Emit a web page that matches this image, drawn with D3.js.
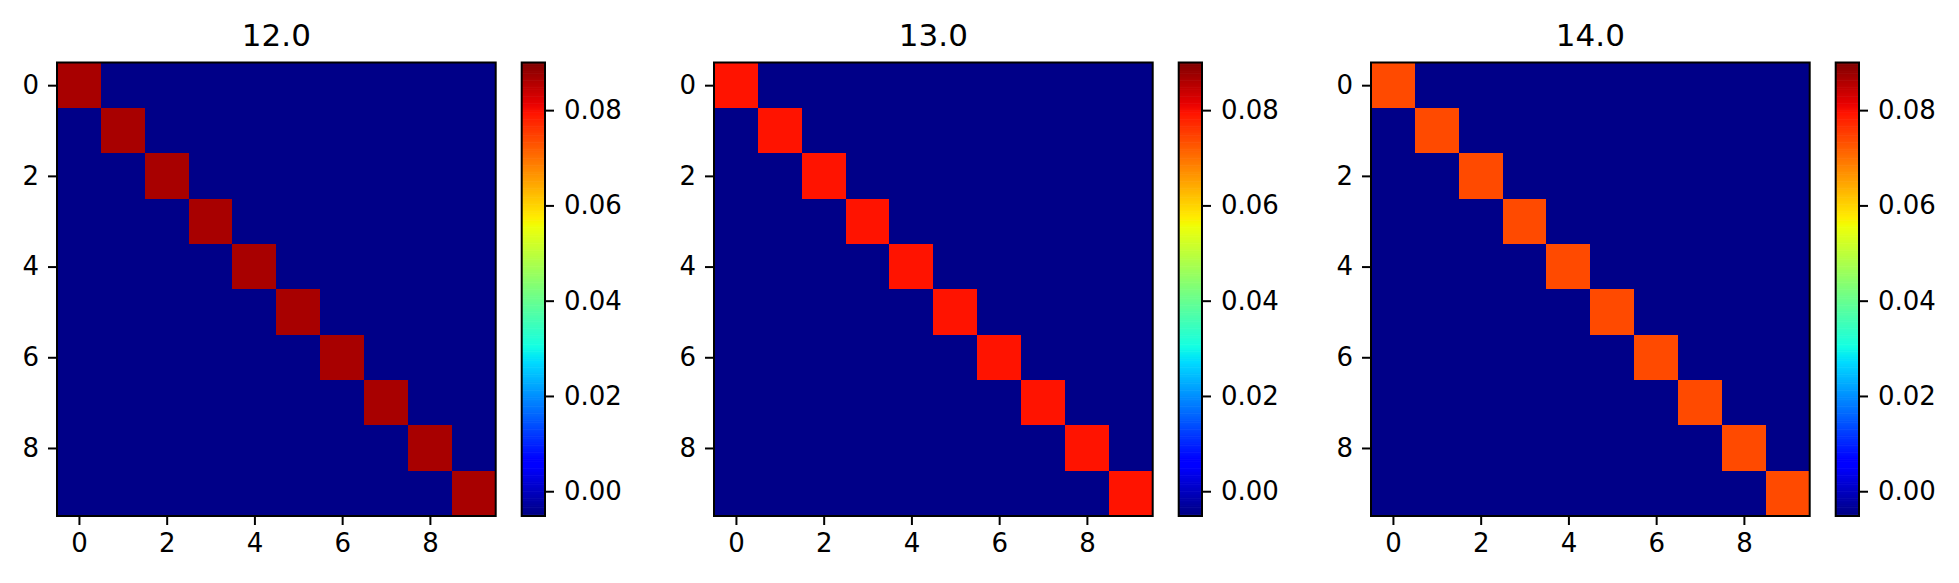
<!DOCTYPE html>
<html>
<head>
<meta charset="utf-8">
<script src="https://cdn.jsdelivr.net/npm/d3@7"></script>
<style>
  body { margin: 0; background: #fff; }
  svg { display: block; font-family: "DejaVu Sans", sans-serif; }
</style>
</head>
<body>
<svg id="chart" width="1959" height="583"></svg>
<script>
// panel titles and the values
const titles = ["12.0", "13.0", "14.0"];
const diagValues = [0.0867, 0.0795, 0.0740];
const offDiagValue = -0.0045;
const n = 10;
const axisTicks = [0, 2, 4, 6, 8];
const cbarTicks = [0.00, 0.02, 0.04, 0.06, 0.08];
const vmin = -0.0052, vmax = 0.09;

// matplotlib "jet" segment data, one linear scale per channel
const jetR = d3.scaleLinear().domain([0, 0.35, 0.66, 0.89, 1]).range([0, 0, 1, 1, 0.5]).clamp(true);
const jetG = d3.scaleLinear().domain([0, 0.125, 0.375, 0.64, 0.91, 1]).range([0, 0, 1, 1, 0, 0]).clamp(true);
const jetB = d3.scaleLinear().domain([0, 0.11, 0.34, 0.65, 1]).range([0.5, 1, 1, 0, 0]).clamp(true);
const jet = t => d3.rgb(jetR(t) * 255, jetG(t) * 255, jetB(t) * 255).formatHex();
const norm = d3.scaleLinear().domain([vmin, vmax]).clamp(true);
const color = v => jet(norm(v));

const svg = d3.select("#chart");

const plotTop = 62.5, plotH = 453.5, plotW = 438.7;
const panelStep = 657, firstLeft = 57;
const cbarGap = 26, cbarWidth = 23.3;

function styleAxis(g) {
  g.attr("font-family", "DejaVu Sans").attr("font-size", 26);
  g.select(".domain").remove();
  g.selectAll(".tick line").attr("stroke", "#000").attr("stroke-width", 2);
  g.selectAll(".tick text").attr("fill", "#000");
}

titles.forEach((title, p) => {
  const left = firstLeft + p * panelStep;
  const x = d3.scaleLinear().domain([-0.5, n - 0.5]).range([left, left + plotW]);
  const y = d3.scaleLinear().domain([-0.5, n - 0.5]).range([plotTop, plotTop + plotH]);

  const cells = [];
  for (let r = 0; r < n; r++)
    for (let c = 0; c < n; c++)
      cells.push({r, c, v: r === c ? diagValues[p] : offDiagValue});

  const g = svg.append("g");
  g.selectAll("rect.cell")
    .data(cells)
    .enter()
    .append("rect")
    .attr("class", "cell")
    .attr("x", d => x(d.c - 0.5))
    .attr("y", d => y(d.r - 0.5))
    .attr("width", d => x(d.c + 0.5) - x(d.c - 0.5) + 0.5)
    .attr("height", d => y(d.r + 0.5) - y(d.r - 0.5) + 0.5)
    .attr("fill", d => color(d.v))
    .attr("shape-rendering", "crispEdges");

  g.append("rect")
    .attr("x", left).attr("y", plotTop)
    .attr("width", plotW).attr("height", plotH)
    .attr("fill", "none").attr("stroke", "#000").attr("stroke-width", 2);

  g.append("g")
    .attr("transform", "translate(" + left + ",0)")
    .call(d3.axisLeft(y).tickValues(axisTicks).tickSize(9).tickPadding(9))
    .call(styleAxis);

  g.append("g")
    .attr("transform", "translate(0," + (plotTop + plotH) + ")")
    .call(d3.axisBottom(x).tickValues(axisTicks).tickSize(9).tickPadding(9))
    .call(styleAxis);

  g.append("text")
    .attr("x", left + plotW / 2)
    .attr("y", 46)
    .attr("text-anchor", "middle")
    .attr("font-family", "DejaVu Sans")
    .attr("font-size", 31)
    .attr("fill", "#000")
    .text(title);

  // colorbar
  const cx = left + plotW + cbarGap;
  const cy = d3.scaleLinear().domain([vmin, vmax]).range([plotTop + plotH, plotTop]);
  const step = (vmax - vmin) / 256;
  const levels = d3.range(256).map(i => vmin + step * i);
  g.selectAll("rect.cbar")
    .data(levels)
    .enter()
    .append("rect")
    .attr("class", "cbar")
    .attr("x", cx)
    .attr("y", d => cy(d + step))
    .attr("width", cbarWidth)
    .attr("height", d => cy(d) - cy(d + step) + 0.6)
    .attr("fill", d => color(d + step / 2));

  g.append("rect")
    .attr("x", cx).attr("y", plotTop)
    .attr("width", cbarWidth).attr("height", plotH)
    .attr("fill", "none").attr("stroke", "#000").attr("stroke-width", 2);

  g.append("g")
    .attr("transform", "translate(" + (cx + cbarWidth) + ",0)")
    .call(d3.axisRight(cy).tickValues(cbarTicks).tickFormat(d3.format(".2f")).tickSize(9).tickPadding(10))
    .call(styleAxis);
});
</script>
</body>
</html>
